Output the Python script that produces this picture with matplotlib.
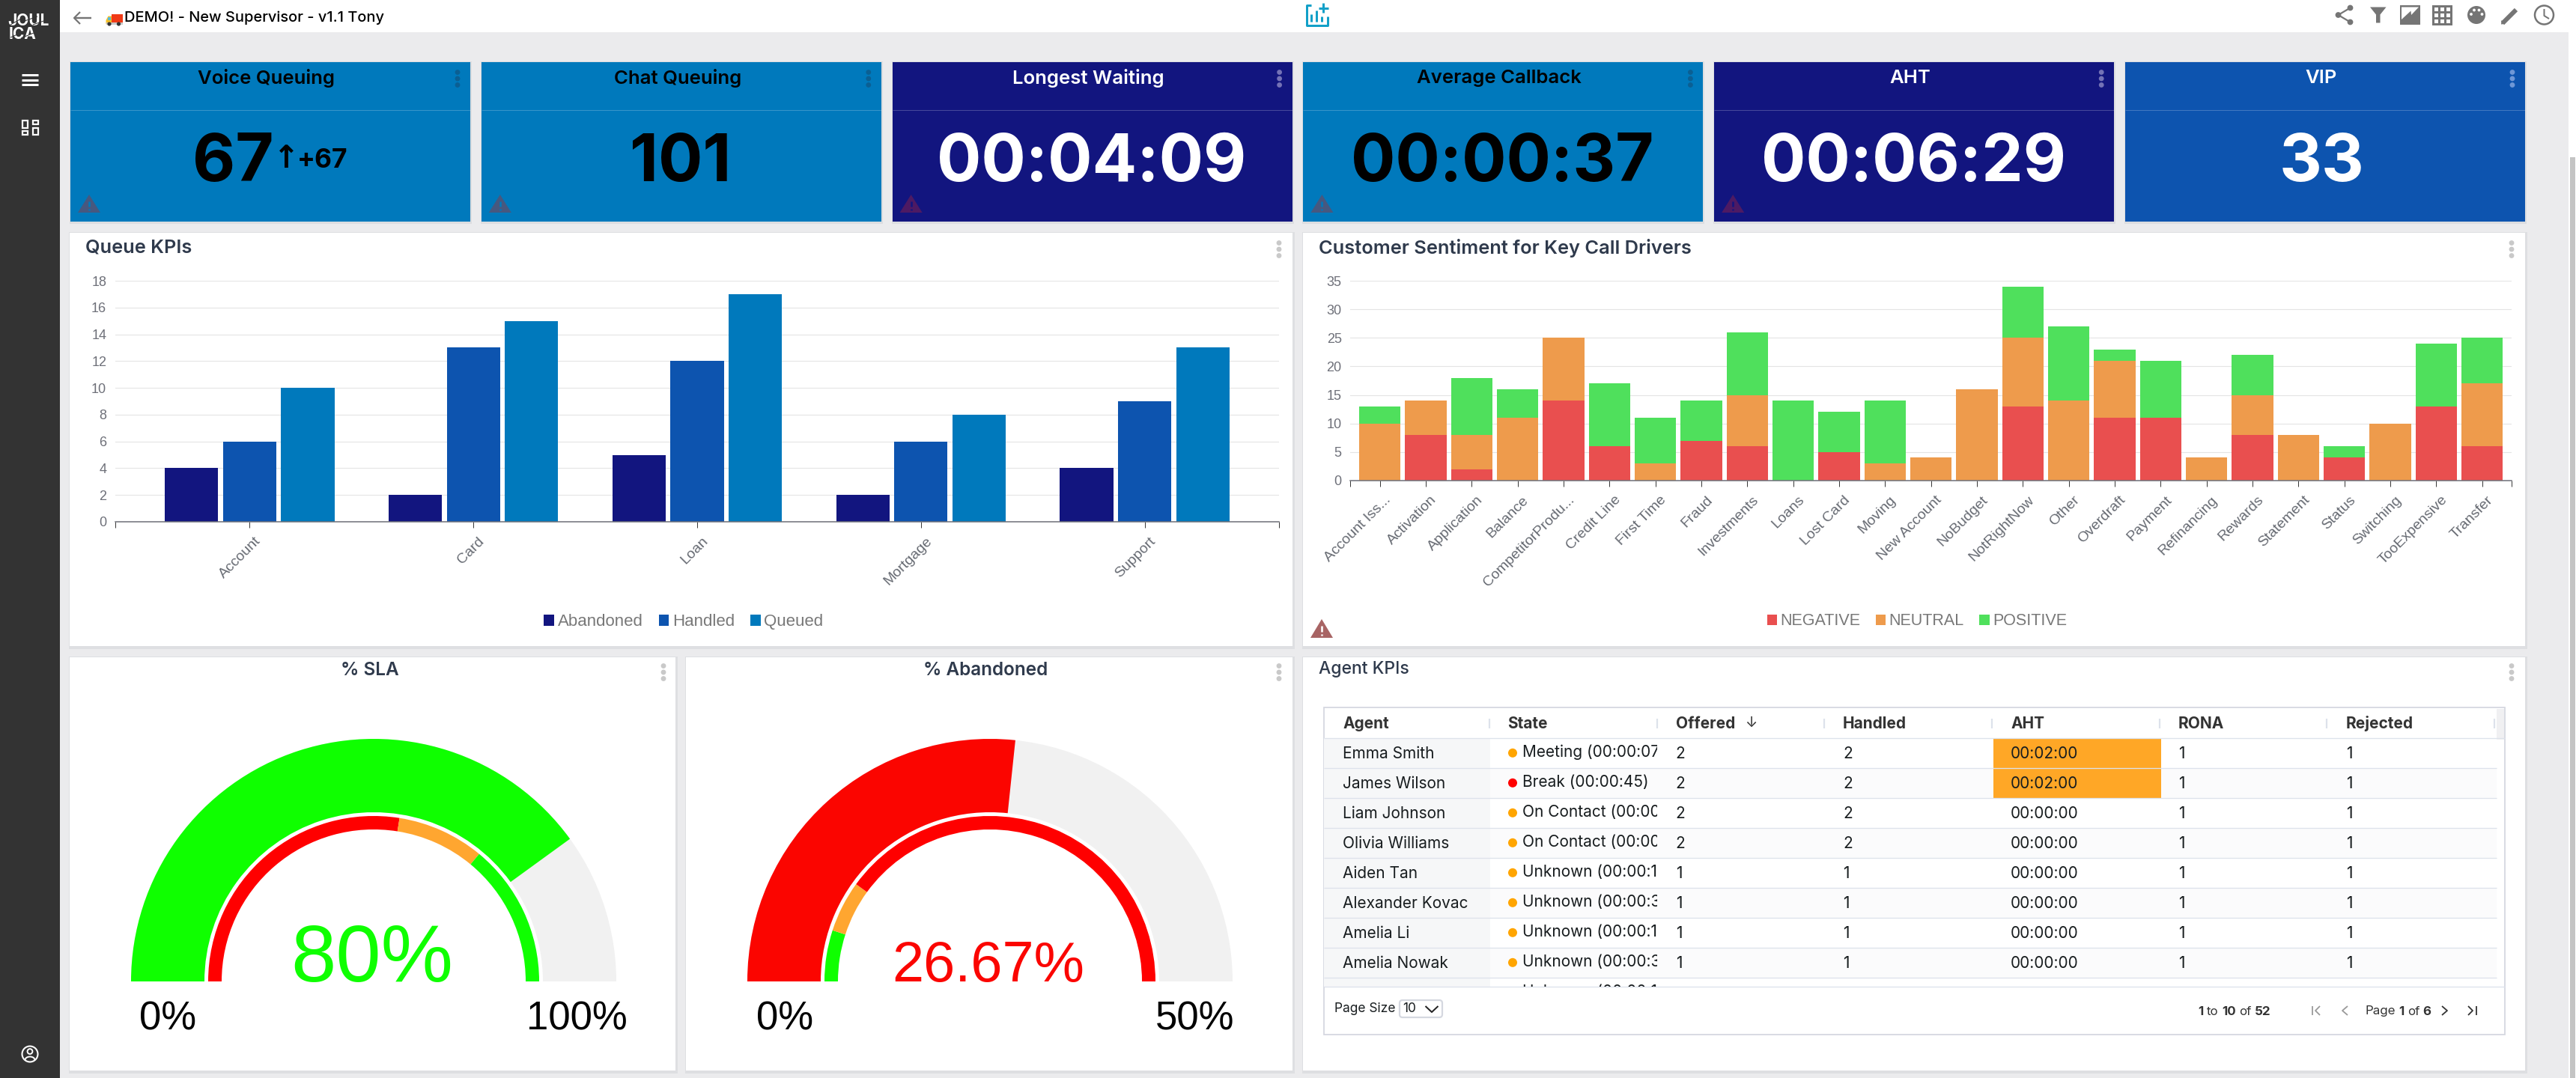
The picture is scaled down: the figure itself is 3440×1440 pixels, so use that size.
import matplotlib
matplotlib.use("Agg")
import matplotlib.pyplot as plt
from matplotlib.patches import Rectangle, Polygon, Circle, Wedge, FancyBboxPatch, Arc
from matplotlib.transforms import ScaledTranslation

W, H = 3440, 1440
C_DARK, C_MID, C_LIGHT = '#12157F', '#0D54AF', '#0079BC'
C_NEG, C_NEU, C_POS = '#E94F4F', '#EE9B4C', '#4FE05C'

# ---- data ----
card_titles = ['Voice Queuing', 'Chat Queuing', 'Longest Waiting', 'Average Callback', 'AHT', 'VIP']
card_values = ['67', '101', '00:04:09', '00:00:37', '00:06:29', '33']
card_fill = [C_LIGHT, C_LIGHT, C_DARK, C_LIGHT, C_DARK, C_MID]
card_text = ['black', 'black', 'white', 'black', 'white', 'white']
card_warn = [True, True, True, True, True, False]

queues = ['Account', 'Card', 'Loan', 'Mortgage', 'Support']
abandoned = [4, 2, 5, 2, 4]
handled = [6, 13, 12, 6, 9]
queued = [10, 15, 17, 8, 13]

drivers = ['Account Iss...', 'Activation', 'Application', 'Balance', 'CompetitorProdu...', 'Credit Line',
           'First Time', 'Fraud', 'Investments', 'Loans', 'Lost Card', 'Moving', 'New Account', 'NoBudget',
           'NotRightNow', 'Other', 'Overdraft', 'Payment', 'Refinancing', 'Rewards', 'Statement', 'Status',
           'Switching', 'TooExpensive', 'Transfer']
negative = [0, 8, 2, 0, 14, 6, 0, 7, 6, 0, 5, 0, 0, 0, 13, 0, 11, 11, 0, 8, 0, 4, 0, 13, 6]
neutral = [10, 6, 6, 11, 11, 0, 3, 0, 9, 0, 0, 3, 4, 16, 12, 14, 10, 0, 4, 7, 8, 0, 10, 0, 11]
positive = [3, 0, 10, 5, 0, 11, 8, 7, 11, 14, 7, 11, 0, 0, 9, 13, 2, 10, 0, 7, 0, 2, 0, 11, 8]

sla_value, sla_max = 80, 100
sla_bands = [(0, 55, '#FF0000'), (55, 72, '#FFA630'), (72, 100, '#0FFF00')]
abn_value, abn_max = 26.67, 50
abn_bands = [(0, 5, '#0FFF00'), (5, 10, '#FFA630'), (10, 50, '#FF0000')]

table_cols = ['Agent', 'State', 'Offered', 'Handled', 'AHT', 'RONA', 'Rejected']
agents = ['Emma Smith', 'James Wilson', 'Liam Johnson', 'Olivia Williams', 'Aiden Tan',
          'Alexander Kovac', 'Amelia Li', 'Amelia Nowak', '']
states = ['Meeting (00:00:07', 'Break (00:00:45)', 'On Contact (00:00', 'On Contact (00:00',
          'Unknown (00:00:1', 'Unknown (00:00:3', 'Unknown (00:00:1', 'Unknown (00:00:3', 'Unknown (00:00:1']
state_dot = ['#FFA500', '#FF0000', '#FFA500', '#FFA500', '#FFA500', '#FFA500', '#FFA500', '#FFA500', '#FFA500']
offered = [2, 2, 2, 2, 1, 1, 1, 1]
handled_t = [2, 2, 2, 2, 1, 1, 1, 1]
aht = ['00:02:00', '00:02:00', '00:00:00', '00:00:00', '00:00:00', '00:00:00', '00:00:00', '00:00:00']
rona = [1, 1, 1, 1, 1, 1, 1, 1]
rejected = [1, 1, 1, 1, 1, 1, 1, 1]

# ---- canvas ----
fig = plt.figure(figsize=(W / 100, H / 100), dpi=100, facecolor='#EBEBED')
bg = fig.add_axes([0, 0, 1, 1], zorder=0)
bg.set_xlim(0, W)
bg.set_ylim(H, 0)
bg.axis('off')
rend = fig.canvas.get_renderer()


def R(x0, y0, x1, y1, fc, ec='none', lw=0, z=1, **k):
    p = Rectangle((x0, y0), x1 - x0, y1 - y0, fc=fc, ec=ec, lw=lw, zorder=z, **k)
    bg.add_patch(p)
    return p


def L(xs, ys, c, lw=1.0, z=3, **k):
    bg.plot(xs, ys, color=c, lw=lw * 0.72, zorder=z, solid_capstyle=k.pop('cap', 'butt'), **k)


def T(x, y, s, size, color='black', weight='normal', fam='Inter', ha='center', va='center', z=5, **k):
    f = fam if isinstance(fam, list) else [fam, 'DejaVu Sans']
    return bg.text(x, y, s, fontsize=size, color=color, fontweight=weight, family=f, ha=ha, va=va, zorder=z, **k)


def runs(x, y, parts, size, color, gap=5):
    for s, b in parts:
        t = T(x, y, s, size, color, 'bold' if b else 'normal', ha='left')
        x += t.get_window_extent(rend).width + gap


def dots(x, y, c):
    for d in (-8.5, 0, 8.5):
        bg.add_patch(Circle((x, y + d), 3.4, fc=c, ec='none', zorder=4))


def warn(x0, x1, ytop, ybot, c, mark):
    bg.add_patch(Polygon([(x0, ybot), ((x0 + x1) / 2, ytop), (x1, ybot)], fc=c, ec='none', zorder=4))
    xm = (x0 + x1) / 2
    L([xm, xm], [ytop + 9, ybot - 8], mark, 2.6, z=5)
    L([xm, xm], [ybot - 5.5, ybot - 3], mark, 2.6, z=5)


def panel(x0, y0, x1, y1):
    R(x0 - 1, y0 - 1, x1 + 3, y1 + 4, '#DEDFE2', z=0.5)
    R(x0, y0, x1, y1, 'white', z=1)


# ---- chrome ----
R(80, 0, 3430, 43, 'white')
R(0, 0, 80, H, '#333333', z=2)
R(3430, 0, W, H, 'white', z=2)
R(3432, 210, 3439, H, '#C4C4C4', z=3)

T(38, 28, 'JOUL', 15, 'white', 'bold', ha='center')
T(30, 45.5, 'ICA', 15, 'white', 'bold', ha='center')
for xs, ys in [((14, 30), (33, 24)), ((30, 50), (29, 22)), ((44, 64), (33, 26)),
               ((14, 30), (50, 43)), ((28, 50), (51, 42))]:
    L(list(xs), list(ys), '#333333', 1.0, z=6)
for y in (100, 106.7, 113.3):
    L([29, 51], [y, y], 'white', 3)
for (x0, y0, x1, y1) in [(30, 161, 37, 171), (43.5, 161, 50.5, 166), (30, 175, 37, 180), (43.5, 171, 50.5, 180)]:
    R(x0, y0, x1, y1, 'none', ec='white', lw=1.6, z=3)
bg.add_patch(Circle((40, 1408), 10.5, fc='none', ec='white', lw=1.5, zorder=3))
bg.add_patch(Circle((40, 1404.5), 3.4, fc='none', ec='white', lw=1.4, zorder=3))
bg.add_patch(Arc((40, 1416), 13, 9, theta1=180, theta2=360, ec='white', lw=1.4, zorder=3))

# back arrow
L([99, 122], [24, 24], '#757575', 2.4)
L([107, 99, 107], [16, 24, 32], '#757575', 2.2)
# truck
R(149, 18.5, 163.5, 30, '#F03A17', z=3)
bg.add_patch(Polygon([(141.5, 32), (141.5, 27), (144.5, 21.5), (149, 21.5), (149, 32)], fc='#F6C026', ec='none', zorder=3))
R(144, 23, 148, 26.5, '#58B9D8', z=4)
R(141.5, 30, 163.5, 32.5, '#C9C9C9', z=3)
for xw in (146, 158.5):
    bg.add_patch(Circle((xw, 32), 2.6, fc='#333333', ec='none', zorder=4))
T(166, 24, 'DEMO! - New Supervisor - v1.1 Tony', 14.4, 'black', 500, ha='left')

# centre icon
teal = '#12A0C8'
L([1751, 1744.5, 1744.5, 1772.5, 1772.5], [6.5, 6.5, 33.5, 33.5, 22], teal, 3)
L([1767, 1767], [4, 17], teal, 3)
L([1760.5, 1773.5], [10.5, 10.5], teal, 3)
for xb, yt in ((1750.5, 19), (1758, 14), (1765, 22)):
    L([xb, xb], [yt, 29], teal, 3)

# right icons
g = '#757575'
pts = [(3138.5, 10.5), (3122.5, 20), (3138.5, 29.5)]
L([p[0] for p in pts], [p[1] for p in pts], g, 2.2)
for p in pts:
    bg.add_patch(Circle(p, 3.9, fc=g, ec='none', zorder=4))
bg.add_patch(Polygon([(3165, 9.5), (3186.5, 9.5), (3178.5, 19.5), (3178.5, 30.5), (3173, 30.5), (3173, 19.5)], fc=g, ec='none', zorder=3))
R(3205, 7, 3232, 33, g, z=3)
bg.add_patch(Polygon([(3207, 9.5), (3230, 9.5), (3220, 20), (3219.5, 14.5), (3207, 26)], fc='white', ec='none', zorder=4))
R(3248, 7, 3275, 33.5, g, z=3)
for ix in range(3):
    for iy in range(3):
        R(3250.5 + ix * 8.2, 9.5 + iy * 8.2, 3256 + ix * 8.2, 15 + iy * 8.2, 'white', z=4)
bg.add_patch(Circle((3307, 20), 12, fc=g, ec='none', zorder=3))
for p in [(3300, 19), (3304, 13.5), (3310.5, 13.5), (3314.5, 19)]:
    bg.add_patch(Circle(p, 1.9, fc='white', ec='none', zorder=4))
L([3342, 3360], [31, 13], g, 6)
bg.add_patch(Polygon([(3340, 32.5), (3340.5, 27), (3345.5, 32)], fc=g, ec='none', zorder=4))
bg.add_patch(Circle((3397.5, 20), 12.5, fc='none', ec=g, lw=1.8, zorder=3))
L([3397.5, 3397.5, 3404], [12, 21, 25], g, 2)

# ---- KPI cards ----
cx0 = 94
cw = 534
pitch = 548.8
for i, (ti, va, fc, tc, wn) in enumerate(zip(card_titles, card_values, card_fill, card_text, card_warn)):
    x0 = cx0 + i * pitch
    x1 = x0 + cw
    R(x0 - 1, 82, x1 + 2, 299, '#DCDDE0', z=0.5)
    R(x0, 83, x1, 296, fc, z=1)
    L([x0, x1], [147, 147], '#FFFFFF', 1, alpha=0.22)
    T(x0 + cw / 2 - 5, 104.5, ti, 18.5, tc, 'semibold')
    dcol = {C_LIGHT: '#0B5F93', C_DARK: '#7472B6', C_MID: '#6E97D6'}[fc]
    dots(x1 - 17, 105, dcol)
    if i != 0:
        T(x0 + cw / 2 - (1 if i != 5 else 5), 219, va, 63.5, tc, 'bold')
    if wn:
        warn(x0 + 10, x0 + 40, 260, 284, '#47587F' if fc == C_LIGHT else '#4D1A63',
             fc)
T(257, 219, card_values[0], 63.5, 'black', 'bold', ha='left')
T(382, 212, '↑', 30, 'black', 'bold', fam=['DejaVu Sans'])
T(431, 214, '+67', 25.5, 'black', 'bold')

# ---- panels ----
panel(93, 311, 1726, 863)
panel(1740, 311, 3372, 863)
panel(93, 878, 901.5, 1430)
panel(916, 878, 1726, 1430)
panel(1740, 878, 3372, 1430)
for xd, yd in ((1708, 333), (3354, 333), (886, 898), (1708, 898), (3354, 898)):
    dots(xd, yd, '#C9C9C9')
tc = '#2F3A4C'
T(114, 331, 'Queue KPIs', 18.3, tc, 'semibold', ha='left')
T(1761, 331, 'Customer Sentiment for Key Call Drivers', 18.3, tc, 'semibold', ha='left')
T(494, 896, '% SLA', 17.5, tc, 'semibold')
T(1316, 896, '% Abandoned', 17.5, tc, 'semibold')
T(1761, 894, 'Agent KPIs', 16.5, tc, 'medium', ha='left')
warn(1750, 1780, 827, 852, '#A86464', 'white')


def axes_px(x0, ytop, x1, ybot):
    a = fig.add_axes([x0 / W, 1 - ybot / H, (x1 - x0) / W, (ybot - ytop) / H], zorder=2)
    a.patch.set_alpha(0)
    return a


def style_chart(a, labels, pos, ymax, step, xl):
    a.set_xlim(*xl)
    a.set_ylim(0, ymax)
    a.set_yticks(range(0, ymax + 1, step))
    a.set_xticks(pos)
    a.set_xticks(list(xl), minor=True)
    a.set_xticklabels(labels, rotation=45, ha='right', va='center', rotation_mode='anchor',
                      family=['Liberation Sans'], fontsize=14, color='#666A72')
    a.tick_params(axis='x', which='both', length=5.8, width=0.7, color='#333333', pad=11)
    a.tick_params(axis='y', length=0, pad=8.5, labelsize=13, labelcolor='#6E7079')
    for t in a.get_yticklabels():
        t.set_family(['Liberation Sans'])
    off = ScaledTranslation(12 / 100, 0, fig.dpi_scale_trans)
    for t in a.get_xticklabels():
        t.set_transform(t.get_transform() + off)
    a.grid(axis='y', color='#E4E4E4', lw=0.8)
    a.set_axisbelow(True)
    for s in ('top', 'right', 'left'):
        a.spines[s].set_visible(False)
    a.spines['bottom'].set_color('#6E7079')
    a.spines['bottom'].set_linewidth(1.1)


def legend(a, cx, cy, size):
    leg = a.legend(loc='center', bbox_to_anchor=(cx / W, 1 - cy / H), bbox_transform=fig.transFigure,
                   ncol=3, frameon=False, handlelength=0.62, handleheight=0.62, handletextpad=0.2,
                   columnspacing=0.95, prop={'family': 'Liberation Sans', 'size': size})
    for t in leg.get_texts():
        t.set_color('#787878')


# queue chart
a1 = axes_px(154, 375, 1708, 697)
xpos = list(range(len(queues)))
bw, off = 0.238, 0.26
a1.bar([x - off for x in xpos], abandoned, bw, color=C_DARK, label='Abandoned')
a1.bar(xpos, handled, bw, color=C_MID, label='Handled')
a1.bar([x + off for x in xpos], queued, bw, color=C_LIGHT, label='Queued')
style_chart(a1, queues, xpos, 18, 2, (-0.6, 4.6))
legend(a1, 913, 831, 16)

# sentiment chart
a2 = axes_px(1803.5, 375, 3354, 642)
xpos2 = list(range(len(drivers)))
a2.bar(xpos2, negative, 0.9, color=C_NEG, label='NEGATIVE')
a2.bar(xpos2, neutral, 0.9, bottom=negative, color=C_NEU, label='NEUTRAL')
bot = [n + m for n, m in zip(negative, neutral)]
a2.bar(xpos2, positive, 0.9, bottom=bot, color=C_POS, label='POSITIVE')
style_chart(a2, drivers, xpos2, 35, 5, (-0.64, 24.64))
legend(a2, 2560, 830, 15.5)


# ---- gauges ----
def gauge(cx, value, vmax, bands, col, vtxt, vsize, hi_txt, lo_x, hi_x):
    a = axes_px(cx - 345, 970, cx + 345, 1320)
    a.set_xlim(-345, 345)
    a.set_ylim(-9, 341)
    a.axis('off')
    ang = lambda v: 180 - 180 * v / vmax
    a.add_patch(Wedge((0, 0), 324, 0, 180, width=98, fc='#F1F1F1', ec='none'))
    a.add_patch(Wedge((0, 0), 324, ang(value), 180, width=98, fc=col, ec='none'))
    for lo, hi, c in bands:
        a.add_patch(Wedge((0, 0), 221, ang(hi), ang(lo), width=18, fc=c, ec='none'))
    T(cx - 2.5, 1311, vtxt, vsize, col, fam='Liberation Sans', va='baseline')
    T(lo_x, 1376, '0%', 38, 'black', fam='Liberation Sans', ha='left', va='baseline')
    T(hi_x, 1376, hi_txt, 38, 'black', fam='Liberation Sans', ha='right', va='baseline')


gauge(499, sla_value, sla_max, sla_bands, '#0FFF00', '80%', 78, '100%', 186, 838)
gauge(1322, abn_value, abn_max, abn_bands, '#FB0500', '26.67%', 54.5, '50%', 1009.5, 1648)

# ---- table ----
tx0, tx1, ty0, ty1 = 1767.5, 3345, 945, 1382
R(tx0, ty0, tx1, ty1, 'white', ec='#D5D8E0', lw=1.3, z=1.1)
col_text = [1793, 2013, 2237.6, 2461, 2685, 2909, 3133]
col_sep = [1989, 2213, 2436, 2660, 2884, 3107, 3331]
row_h = 40
row0 = 986.3
grid_b = 1318
for i in range(9):
    y0 = row0 + i * row_h
    y1 = min(y0 + row_h, grid_b)
    if i % 2 == 1:
        R(1768, y0, 3334, y1, '#FBFBFC', z=1.2)
    R(1768, y0, 1990, y1, '#F6F7F8', z=1.3)
    if i < 8:
        L([1768, 3334], [y0 + row_h, y0 + row_h], '#DDE2EB', 1.3, z=2)
L([1768, 3345], [row0, row0], '#DDE2EB', 1.3, z=2)
L([1768, 3345], [grid_b, grid_b], '#DDE2EB', 1.3, z=2)
R(3334, 947, 3344, 988, '#F0F0F2', z=1.3)
R(2662, row0, 2885.5, row0 + 2 * row_h, '#FFA726', z=1.5)
for x, s in zip(col_text, table_cols):
    T(x, 966.7, s, 15, '#333333', 'bold', ha='left')
T(2338, 966, '↓', 14, '#333333', fam=['Inter', 'DejaVu Sans'])
for x in col_sep:
    L([x, x], [960, 973], '#DDE2EB', 2.2, z=2)
clip_state = Rectangle((2000, 980), 213, grid_b - 980, transform=bg.transData)
txt = '#181D1F'
for i in range(9):
    yc = row0 + i * row_h + 20.5
    if i < 8:
        T(col_text[0], yc, agents[i], 15, txt, ha='left')
        for x, v in zip(col_text[2:], [offered[i], handled_t[i], aht[i], rona[i], rejected[i]]):
            T(x, yc, str(v), 15, txt, ha='left')
        d = Circle((2020, yc - 1), 6, fc=state_dot[i], ec='none', zorder=4)
        bg.add_patch(d)
    t = T(2033, yc - 2, states[i], 15, txt, ha='left')
    t.set_clip_path(clip_state)
    t.set_clip_on(True)

# footer
fc = '#181D1F'
T(1781.5, 1348, 'Page Size', 12.5, fc, ha='left')
bg.add_patch(FancyBboxPatch((1869, 1336), 57, 23, boxstyle='round,pad=0,rounding_size=4', fc='white', ec='#D5D8E0', lw=1.6, zorder=3))
T(1873, 1348, '10', 12.5, fc, ha='left')
L([1903.5, 1912, 1920.5], [1344, 1352, 1344], '#222222', 2)
runs(2935, 1351, [('1', True), ('to', False), ('10', True), ('of', False), ('52', True)], 12.2, '#333333', gap=4.5)
runs(3158, 1351, [('Page', False), ('1', True), ('of', False), ('6', True)], 12.2, '#333333', gap=4.5)
gr = '#9A9A9A'
L([3087.5, 3087.5], [1344, 1356], gr, 1.8)
L([3098, 3092, 3098], [1344, 1350, 1356], gr, 1.8)
L([3135, 3128, 3135], [1344, 1350, 1356], gr, 1.8)
L([3261, 3268, 3261], [1344, 1350, 1356], '#333333', 1.8)
L([3296, 3302, 3296], [1344, 1350, 1356], '#333333', 1.8)
L([3307, 3307], [1344, 1356], '#333333', 1.8)

fig.savefig('out.png', dpi=100, facecolor=fig.get_facecolor())
